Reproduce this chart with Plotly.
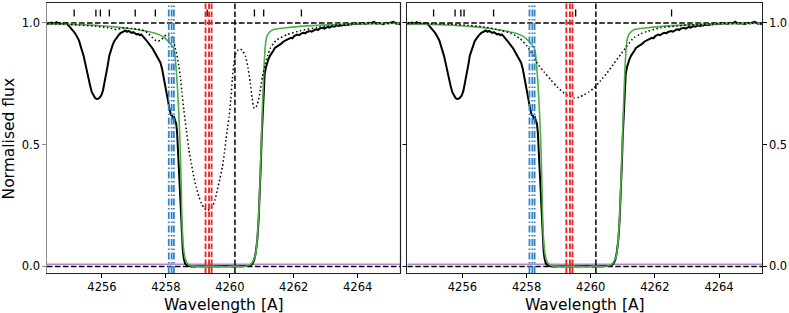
import plotly.graph_objects as go

# ---------------- data ----------------
obs_wl = [4254.28, 4254.33, 4254.38, 4254.43, 4254.48, 4254.53, 4254.58, 4254.63, 4254.68, 4254.73,
          4254.78, 4254.83, 4254.88, 4254.93, 4254.98, 4255.03, 4255.08, 4255.13, 4255.18, 4255.23,
          4255.28, 4255.33, 4255.38, 4255.43, 4255.48, 4255.53, 4255.58, 4255.63, 4255.68, 4255.73,
          4255.78, 4255.83, 4255.88, 4255.93, 4255.98, 4256.03, 4256.08, 4256.13, 4256.18, 4256.23,
          4256.28, 4256.33, 4256.38, 4256.43, 4256.48, 4256.53, 4256.58, 4256.63, 4256.68, 4256.73,
          4256.78, 4256.83, 4256.88, 4256.93, 4256.98, 4257.03, 4257.08, 4257.13, 4257.18, 4257.23,
          4257.28, 4257.33, 4257.38, 4257.43, 4257.48, 4257.53, 4257.58, 4257.63, 4257.68, 4257.73,
          4257.78, 4257.83, 4257.88, 4257.92, 4257.96, 4258.00, 4258.04, 4258.08, 4258.12, 4258.16,
          4258.20, 4258.23, 4258.26, 4258.29, 4258.32, 4258.35, 4258.38, 4258.41, 4258.44, 4258.47,
          4258.50, 4258.53, 4258.56, 4258.60, 4258.66, 4258.75, 4258.90, 4259.10, 4259.30, 4259.50,
          4259.70, 4259.90, 4260.10, 4260.30, 4260.50, 4260.62, 4260.70, 4260.76, 4260.81, 4260.86,
          4260.90, 4260.94, 4260.97, 4261.00, 4261.03, 4261.06, 4261.09, 4261.13, 4261.17, 4261.21,
          4261.26, 4261.31, 4261.36, 4261.41, 4261.46, 4261.51, 4261.56, 4261.61, 4261.66, 4261.71,
          4261.76, 4261.81, 4261.86, 4261.91, 4261.96, 4262.01, 4262.06, 4262.11, 4262.16, 4262.21,
          4262.26, 4262.31, 4262.36, 4262.41, 4262.46, 4262.51, 4262.56, 4262.61, 4262.66, 4262.71,
          4262.76, 4262.81, 4262.86, 4262.91, 4262.96, 4263.01, 4263.06, 4263.11, 4263.16, 4263.21,
          4263.26, 4263.31, 4263.36, 4263.41, 4263.46, 4263.51, 4263.56, 4263.61, 4263.66, 4263.71,
          4263.76, 4263.81, 4263.86, 4263.91, 4263.96, 4264.01, 4264.06, 4264.11, 4264.16, 4264.21,
          4264.26, 4264.31, 4264.36, 4264.41, 4264.46, 4264.51, 4264.56, 4264.61, 4264.66, 4264.71,
          4264.76, 4264.81, 4264.86, 4264.91, 4264.96, 4265.01, 4265.06, 4265.11, 4265.16, 4265.21,
          4265.26, 4265.31, 4265.34]
obs_flux = [0.994, 0.999, 0.996, 1.002, 0.997, 0.999, 1.003, 0.998, 1.000, 0.995,
            0.998, 0.996, 0.999, 0.993, 0.986, 0.976, 0.969, 0.962, 0.953, 0.943,
            0.928, 0.906, 0.886, 0.862, 0.832, 0.799, 0.768, 0.742, 0.717, 0.701,
            0.693, 0.688, 0.689, 0.694, 0.703, 0.722, 0.752, 0.790, 0.826, 0.866,
            0.889, 0.908, 0.924, 0.935, 0.946, 0.952, 0.958, 0.961, 0.966, 0.969,
            0.964, 0.967, 0.963, 0.959, 0.962, 0.956, 0.953, 0.955, 0.950, 0.953,
            0.947, 0.938, 0.930, 0.922, 0.914, 0.905, 0.896, 0.884, 0.873, 0.862,
            0.851, 0.837, 0.812, 0.782, 0.752, 0.728, 0.703, 0.672, 0.642, 0.622,
            0.618, 0.608, 0.612, 0.598, 0.588, 0.552, 0.470, 0.380, 0.290, 0.200,
            0.120, 0.065, 0.032, 0.012, 0.004, 0.001, 0.000, 0.002, 0.000, 0.001,
            0.000, 0.002, 0.000, 0.001, 0.000, 0.003, 0.010, 0.025, 0.055, 0.110,
            0.190, 0.300, 0.420, 0.540, 0.650, 0.740, 0.790, 0.818, 0.838, 0.852,
            0.866, 0.879, 0.886, 0.897, 0.901, 0.906, 0.912, 0.915, 0.922, 0.924,
            0.929, 0.933, 0.936, 0.939, 0.937, 0.946, 0.949, 0.952, 0.950, 0.956,
            0.958, 0.960, 0.957, 0.963, 0.965, 0.967, 0.964, 0.970, 0.972, 0.974,
            0.971, 0.977, 0.978, 0.980, 0.977, 0.982, 0.984, 0.981, 0.985, 0.987,
            0.985, 0.988, 0.990, 0.987, 0.991, 0.990, 0.993, 0.991, 0.994, 0.992,
            0.996, 0.994, 0.997, 0.995, 0.998, 0.996, 0.999, 0.997, 1.000, 0.998,
            0.996, 0.999, 1.001, 0.998, 1.003, 1.005, 0.999, 0.997, 1.000, 0.998,
            0.996, 0.995, 0.999, 1.001, 0.998, 1.000, 1.002, 1.005, 1.001, 0.997,
            0.999, 0.996, 1.000]

fit_wl = [4254.28, 4254.80, 4255.30, 4255.80, 4256.30, 4256.80, 4257.30, 4257.60, 4257.80, 4257.95,
          4258.08, 4258.16, 4258.24, 4258.28, 4258.31, 4258.35, 4258.38, 4258.42, 4258.45, 4258.48,
          4258.50, 4258.53, 4258.57, 4258.62, 4258.71, 4258.85, 4259.20, 4260.00, 4260.50, 4260.65,
          4260.74, 4260.80, 4260.85, 4260.90, 4260.93, 4260.96, 4260.99, 4261.01, 4261.04, 4261.07,
          4261.11, 4261.15, 4261.22, 4261.37, 4261.69, 4262.21, 4262.73, 4263.78, 4264.81, 4265.34]
fit_flux = [0.996, 0.995, 0.993, 0.990, 0.985, 0.978, 0.968, 0.960, 0.951, 0.940,
            0.924, 0.912, 0.897, 0.870, 0.829, 0.760, 0.692, 0.582, 0.480, 0.330,
            0.205, 0.110, 0.055, 0.025, 0.007, 0.001, 0.000, 0.000, 0.001, 0.008,
            0.025, 0.045, 0.100, 0.205, 0.300, 0.410, 0.520, 0.616, 0.720, 0.820,
            0.905, 0.940, 0.959, 0.973, 0.979, 0.986, 0.990, 0.996, 0.998, 0.999]

modelA_wl = [4254.28, 4254.80, 4255.30, 4255.80, 4256.20, 4256.46, 4256.60, 4256.72, 4256.93, 4257.10,
             4257.24, 4257.35, 4257.45, 4257.56, 4257.66, 4257.75, 4257.85, 4257.95, 4258.03, 4258.10,
             4258.18, 4258.24, 4258.29, 4258.35, 4258.40, 4258.45, 4258.50, 4258.56, 4258.64, 4258.72,
             4258.80, 4258.87, 4258.95, 4259.03, 4259.11, 4259.19, 4259.25, 4259.30, 4259.38, 4259.46,
             4259.54, 4259.61, 4259.69, 4259.77, 4259.83, 4259.88, 4259.93, 4259.98, 4260.03, 4260.08,
             4260.13, 4260.18, 4260.25, 4260.33, 4260.41, 4260.49, 4260.57, 4260.64, 4260.70, 4260.75,
             4260.80, 4260.85, 4260.90, 4260.96, 4261.02, 4261.11, 4261.19, 4261.27, 4261.38, 4261.48,
             4261.79, 4262.21, 4262.73, 4263.24, 4263.78, 4264.50, 4265.34]
modelA_flux = [0.997, 0.995, 0.991, 0.987, 0.980, 0.973, 0.978, 0.980, 0.977, 0.975,
               0.972, 0.966, 0.957, 0.942, 0.930, 0.926, 0.930, 0.945, 0.952, 0.950,
               0.944, 0.925, 0.897, 0.865, 0.829, 0.780, 0.719, 0.644, 0.560, 0.480,
               0.420, 0.370, 0.325, 0.288, 0.260, 0.240, 0.233, 0.230, 0.236, 0.247,
               0.275, 0.315, 0.360, 0.410, 0.465, 0.520, 0.570, 0.616, 0.685, 0.770,
               0.840, 0.872, 0.888, 0.893, 0.884, 0.863, 0.815, 0.753, 0.690, 0.652,
               0.650, 0.662, 0.685, 0.730, 0.780, 0.829, 0.868, 0.897, 0.918, 0.931,
               0.952, 0.968, 0.981, 0.990, 0.996, 0.998, 1.000]

modelB_wl = [4254.28, 4255.00, 4255.60, 4256.20, 4256.68, 4257.10, 4257.51, 4257.80, 4258.02, 4258.18,
             4258.33, 4258.55, 4258.75, 4258.95, 4259.17, 4259.33, 4259.48, 4259.63, 4259.79, 4259.95,
             4260.10, 4260.30, 4260.51, 4260.72, 4260.93, 4261.14, 4261.35, 4261.55, 4261.75, 4262.18,
             4262.70, 4263.22, 4264.00, 4265.34]
modelB_flux = [0.998, 0.997, 0.995, 0.990, 0.984, 0.972, 0.958, 0.935, 0.904, 0.870,
               0.835, 0.798, 0.767, 0.738, 0.712, 0.699, 0.692, 0.695, 0.705, 0.717,
               0.733, 0.762, 0.795, 0.833, 0.870, 0.907, 0.940, 0.955, 0.965, 0.980,
               0.988, 0.993, 0.997, 0.999]

err_wl = [4254.28, 4258.40, 4260.90, 4265.34]
err_flux = [0.009, 0.009, 0.009, 0.009]

blue_lines = [4258.09, 4258.18, 4258.25]
red_lines = [4259.24, 4259.35, 4259.43]
rest_line = 4260.16

marks_left = [4255.13, 4255.81, 4255.95, 4256.23, 4257.04, 4257.67, 4259.29, 4260.77, 4261.06, 4262.24]
marks_right = [4255.10, 4255.77, 4255.95, 4256.05, 4256.97, 4259.53, 4262.52]
mark_lo, mark_hi = 1.027, 1.055

x_range = [4254.28, 4265.34]
y_range = [-0.027, 1.082]
x_ticks = [4256, 4258, 4260, 4262, 4264]
y_ticks = [0.0, 0.5, 1.0]
y_ticklabels = ["0.0", "0.5", "1.0"]

FONT = "DejaVu Sans"
GREEN = "#4fae47"
PURPLE = "#b587d6"
BLUE = "#3585c8"
RED = "#f01e1e"

fig = go.Figure()

panels = [("x", "y", modelA_wl, modelA_flux, marks_left),
          ("x2", "y2", modelB_wl, modelB_flux, marks_right)]

for xa, ya, mwl, mfl, marks in panels:
    fig.add_trace(go.Scatter(x=err_wl, y=err_flux, mode="lines", xaxis=xa, yaxis=ya,
                             line=dict(color=PURPLE, width=1.5), hoverinfo="skip"))
    for lvl in (0.0, 1.0):
        fig.add_trace(go.Scatter(x=x_range, y=[lvl, lvl], mode="lines", xaxis=xa, yaxis=ya,
                                 line=dict(color="black", width=1.5, dash="5.5px,2.5px")))
    fig.add_trace(go.Scatter(x=obs_wl, y=obs_flux, mode="lines", xaxis=xa, yaxis=ya,
                             line=dict(color="black", width=2)))
    fig.add_trace(go.Scatter(x=fit_wl, y=fit_flux, mode="lines", xaxis=xa, yaxis=ya,
                             line=dict(color=GREEN, width=1.6, shape="spline", smoothing=0.6)))
    fig.add_trace(go.Scatter(x=mwl, y=mfl, mode="lines", xaxis=xa, yaxis=ya,
                             line=dict(color="black", width=1.5, dash="1.5px,2.5px",
                                       shape="spline", smoothing=0.6)))
    mx, my = [], []
    for m in marks:
        mx += [m, m, None]
        my += [mark_lo, mark_hi, None]
    fig.add_trace(go.Scatter(x=mx, y=my, mode="lines", xaxis=xa, yaxis=ya,
                             line=dict(color="black", width=1.3)))
    # vertical reference lines
    for b in blue_lines:
        fig.add_shape(type="line", xref=xa, yref=ya + " domain", x0=b, x1=b, y0=0, y1=1,
                      line=dict(color=BLUE, width=1.8, dash="7px,2.5px,1.5px,2.5px"))
    for r in red_lines:
        fig.add_shape(type="line", xref=xa, yref=ya + " domain", x0=r, x1=r, y0=0, y1=1,
                      line=dict(color=RED, width=1.8, dash="5.5px,2.5px"))
    fig.add_shape(type="line", xref=xa, yref=ya + " domain", x0=rest_line, x1=rest_line, y0=0, y1=1,
                  line=dict(color="black", width=1.5, dash="5.5px,2.5px"))

# right border of the left panel (black)
fig.add_shape(type="line", xref="x domain", yref="y domain", x0=1, x1=1, y0=0, y1=1,
              line=dict(color="#222222", width=1.2))

axis_font = dict(family=FONT, size=11.5, color="black")
common_x = dict(range=x_range, tickvals=x_ticks, ticks="outside", ticklen=3.5, tickwidth=1,
                tickcolor="black", showgrid=False, zeroline=False, showline=True,
                linecolor="#222222", linewidth=1.2, mirror=True, tickfont=axis_font)
common_y = dict(range=y_range, tickvals=y_ticks, ticktext=y_ticklabels, ticks="outside",
                ticklen=3.5, tickwidth=1, showgrid=False, zeroline=False, showline=True,
                linewidth=1.2, tickfont=axis_font)

TITLE_FONT = dict(family=FONT, size=15.5, color="black")

fig.update_layout(
    width=789, height=313,
    margin=dict(l=47, r=27, t=3, b=40),
    paper_bgcolor="white", plot_bgcolor="white",
    showlegend=False,
    font=dict(family=FONT, color="black"),
    xaxis=dict(domain=[0, 0.4944], anchor="y", **common_x),
    xaxis2=dict(domain=[0.5039, 1.0], anchor="y2", **common_x),
    yaxis=dict(domain=[0, 1], anchor="x", linecolor="#8a8a8a", tickcolor="#8a8a8a",
               mirror="ticks", **common_y),
    yaxis2=dict(domain=[0, 1], anchor="x2", side="right", linecolor="#222222", tickcolor="black",
                mirror="ticks", **common_y),
    annotations=[
        dict(text="Normalised flux", xref="paper", yref="paper", x=-0.0525, y=0.5,
             textangle=-90, showarrow=False, font=TITLE_FONT,
             xanchor="center", yanchor="middle"),
        dict(text="Wavelength [A]", xref="paper", yref="paper", x=0.2472, y=-0.118,
             showarrow=False, font=TITLE_FONT, xanchor="center", yanchor="middle"),
        dict(text="Wavelength [A]", xref="paper", yref="paper", x=0.752, y=-0.118,
             showarrow=False, font=TITLE_FONT, xanchor="center", yanchor="middle"),
    ],
)

fig.write_html("out.html", config={"displayModeBar": False},
               post_script="document.body.style.margin='0';document.body.style.padding='0';")
